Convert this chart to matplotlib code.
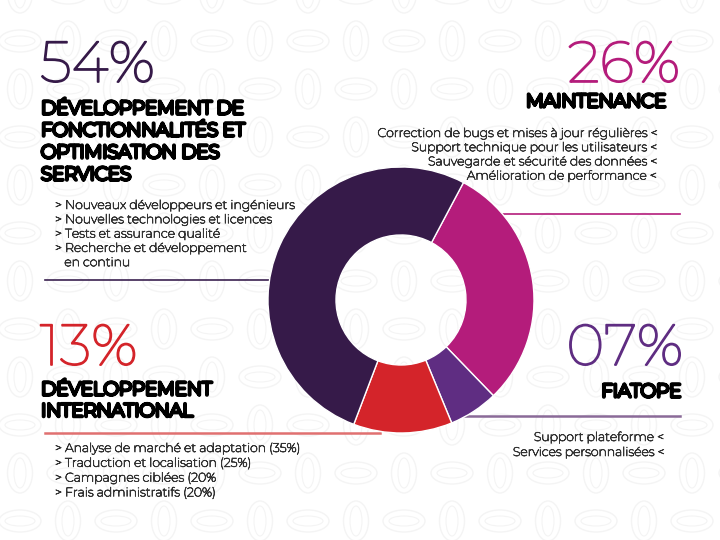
import matplotlib
matplotlib.use("Agg")
import matplotlib.pyplot as plt
from matplotlib.patches import Ellipse
import matplotlib.patheffects as pe
import numpy as np

# ---- data ----
categories = ["Maintenance", "Fiatope", "Développement international",
              "Développement de fonctionnalités"]
slice_values = [30, 6, 12, 52]          # as drawn in the ring
slice_colors = ["#b41c7b", "#5f2d82", "#d4242a", "#361a49"]
pct_labels = ["26%", "07%", "13%", "54%"]

title_54 = ["DÉVELOPPEMENT DE", "FONCTIONNALITÉS ET", "OPTIMISATION DES", "SERVICES"]
items_54 = ["> Nouveaux développeurs et ingénieurs",
            "> Nouvelles technologies et licences",
            "> Tests et assurance qualité",
            "> Recherche et développement",
            "   en continu"]
title_26 = ["MAINTENANCE"]
items_26 = ["Correction de bugs et mises à jour régulières <",
            "Support technique pour les utilisateurs <",
            "Sauvegarde et sécurité des données <",
            "Amélioration de performance <"]
title_13 = ["DÉVELOPPEMENT", "INTERNATIONAL"]
items_13 = ["> Analyse de marché et adaptation (35%)",
            "> Traduction et localisation (25%)",
            "> Campagnes ciblées (20%",
            "> Frais administratifs (20%)"]
title_07 = ["FIATOPE"]
items_07 = ["Support plateforme <",
            "Services personnalisées <"]

W, H = 720, 540
fig = plt.figure(figsize=(7.2, 5.4), dpi=100)
ax = fig.add_axes([0, 0, 1, 1])

def Y(py):
    return H - py

# faint background pattern (checkerboard of beans)
pat = "#f4f4f4"
for k in range(-10, 3):
    py = 473 + 48 * k
    for m in range(-11, 6):
        px = 500 + 48 * m
        if (m + k) % 2 == 0:
            ax.add_patch(Ellipse((px, Y(py)), 25, 40, fill=False, ec=pat, lw=1.0, zorder=0))
            ax.add_patch(Ellipse((px, Y(py)), 12, 30, fill=False, ec=pat, lw=0.8, zorder=0))
        else:
            ax.add_patch(Ellipse((px, Y(py)), 42, 22, fill=False, ec=pat, lw=1.0, zorder=0))
            ax.add_patch(Ellipse((px, Y(py)), 30, 10, fill=False, ec=pat, lw=0.8, zorder=0))

# donut
ax.pie(slice_values, colors=slice_colors, startangle=62, counterclock=False,
       center=(401, Y(300)), radius=133, frame=True,
       wedgeprops=dict(width=68, edgecolor="white", linewidth=1.0))
for w in ax.patches[-4:]:
    w.set_zorder(3)

# separator lines
ax.plot([45, 270], [Y(280), Y(280)], color="#3b2150", lw=1.2, zorder=2)
ax.plot([500, 680], [Y(214), Y(214)], color="#b41c7b", lw=1.2, zorder=2)
ax.plot([45, 380], [Y(433), Y(433)], color="#e07070", lw=1.8, zorder=2)
ax.plot([465, 680], [Y(416), Y(416)], color="#8a6a98", lw=1.8, zorder=2)

FAM = ["Montserrat", "DejaVu Sans"]

def big(x, y, s, c, ha):
    ax.text(x, Y(y), s, color=c, va="baseline", ha=ha, family=FAM, fontsize=41.5,
            path_effects=[pe.withStroke(linewidth=1.2, foreground=c)], zorder=4)

def head(x, y, s, ha):
    ax.text(x, Y(y), s, color="black", va="baseline", ha=ha, family=FAM, fontsize=13.2,
            path_effects=[pe.withStroke(linewidth=2.5, foreground="black")], zorder=4)

def body(x, y, s, ha):
    ax.text(x, Y(y), s, color="#333333", va="baseline", ha=ha, family=FAM, fontsize=8.95,
            path_effects=[pe.withStroke(linewidth=0.55, foreground="#333333")], zorder=4)

# 54%
big(40, 82, pct_labels[3], "#361a49", "left")
for k, t in enumerate(title_54):
    head(41, 114 + 22 * k, t, "left")
for k, t in enumerate(items_54):
    body(55, 209 + 14.3 * k, t, "left")

# 26%
big(680, 82, pct_labels[0], "#b41c7b", "right")
head(667, 107, title_26[0], "right")
for k, t in enumerate(items_26):
    body(655, 137 + 14.2 * k, t, "right")

# 13%
big(40, 365, pct_labels[2], "#d4242a", "left")
for k, t in enumerate(title_13):
    head(41, 395 + 21.5 * k, t, "left")
for k, t in enumerate(items_13):
    body(55, 452 + 14.8 * k, t, "left")

# 07%
big(683, 365, pct_labels[1], "#5f2d82", "right")
head(682, 397, title_07[0], "right")
for k, t in enumerate(items_07):
    body(663, 441 + 15 * k, t, "right")

ax.set_xlim(0, W)
ax.set_ylim(0, H)
ax.set_aspect("equal")
ax.axis("off")
fig.savefig("out.png", dpi=100, facecolor="white")
